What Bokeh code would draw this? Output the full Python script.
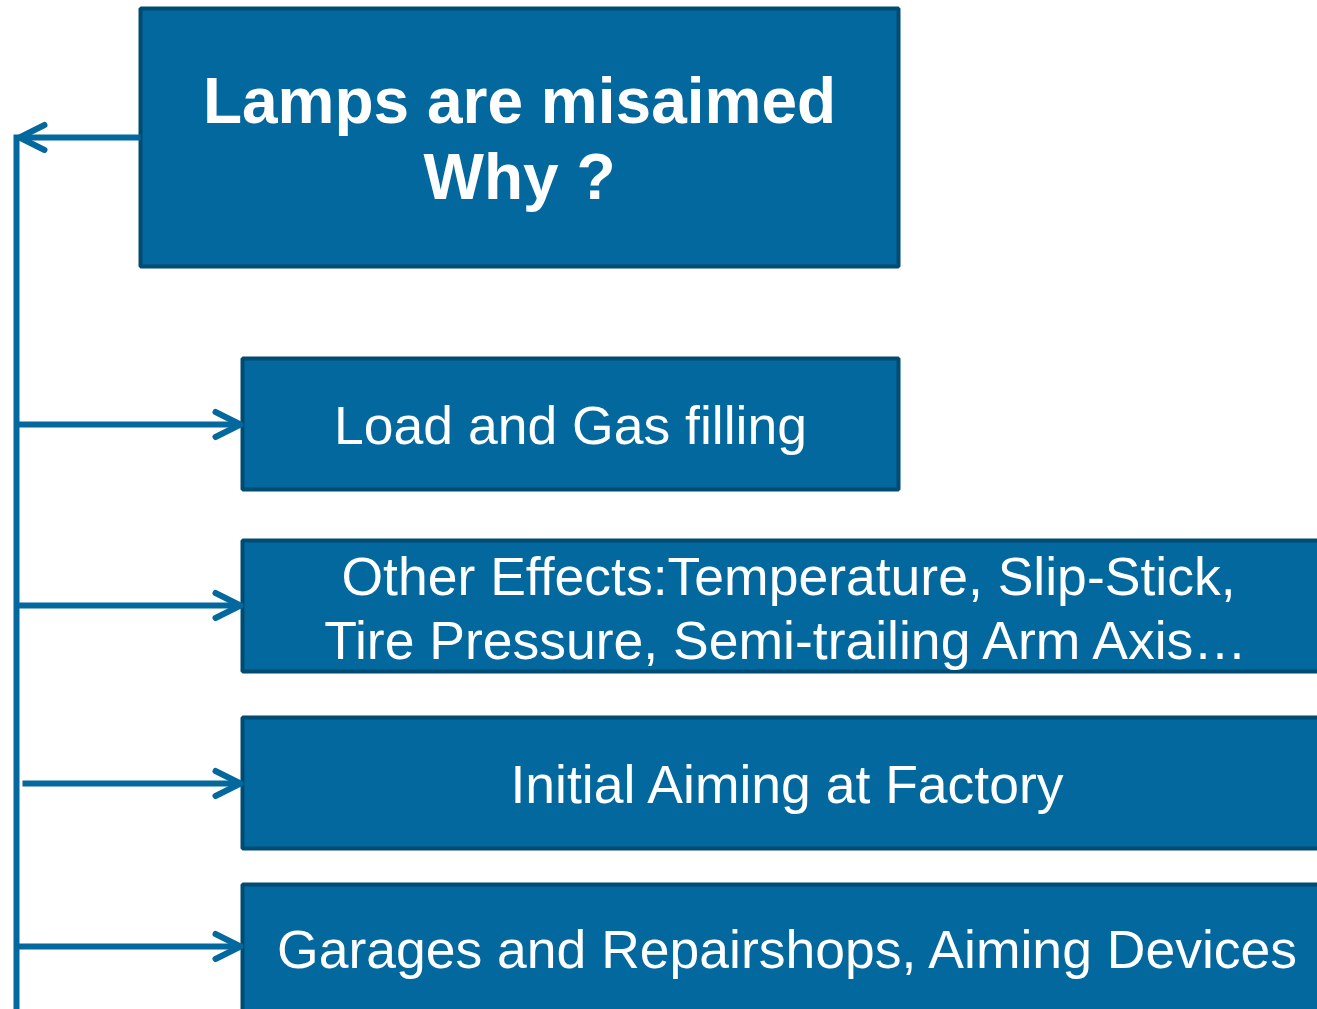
from bokeh.plotting import figure
from bokeh.models import Range1d, Arrow, OpenHead
from bokeh.core.properties import value
from bokeh.embed import file_html
from bokeh.resources import INLINE

# ---- content ----
title_lines = ["Lamps are misaimed", "Why ?"]
cause_labels = [
    ["Load and Gas filling"],
    ["Other Effects:Temperature, Slip-Stick,", "Tire Pressure, Semi-trailing Arm Axis\u2026"],
    ["Initial Aiming at Factory"],
    ["Garages and Repairshops, Aiming Devices"],
]

# ---- layout (page pixel coordinates) ----
FILL = "#02689d"
EDGE = "#004b72"
LINE = "#02689d"

title_box = (140, 898, 8, 266)
title_mids = [100, 176]
title_cx = 519

cause_boxes = [(242, 898, 358, 489), (242, 1340, 540, 671), (242, 1340, 717, 848), (242, 1340, 884, 1040)]
cause_cx = [570, 788, 788, 788]
cause_mids = [[425], [576, 640], [784], [949]]
arrow_y = [424, 605, 783, 946]
arrow_x0 = [16, 16, 22, 16]
spine_x = 16

p = figure(width=1317, height=1009, output_backend="svg", toolbar_location=None,
           x_range=Range1d(0, 1317), y_range=Range1d(1009, 0),
           min_border=0, background_fill_color="white", border_fill_color="white")
p.axis.visible = False
p.grid.visible = False
p.outline_line_color = None

# boxes
boxes = [title_box] + cause_boxes
p.quad(left=[b[0] for b in boxes], right=[b[1] for b in boxes],
       top=[b[2] for b in boxes], bottom=[b[3] for b in boxes],
       fill_color=FILL, line_color=EDGE, line_width=4)

# spine
p.segment(x0=[spine_x], y0=[134], x1=[spine_x], y1=[1020], line_color=LINE, line_width=6)

# arrow from title to spine
p.add_layout(Arrow(end=OpenHead(size=25, line_color=LINE, line_width=6, line_join="round", line_cap="round"),
                   x_start=title_box[0], y_start=137, x_end=19, y_end=137,
                   line_color=LINE, line_width=6))

# arrows to causes
for x0, y in zip(arrow_x0, arrow_y):
    p.add_layout(Arrow(end=OpenHead(size=25, line_color=LINE, line_width=6, line_join="round", line_cap="round"),
                       x_start=x0, y_start=y, x_end=240, y_end=y,
                       line_color=LINE, line_width=6))

# title text
p.text(x=[title_cx] * 2, y=title_mids, text=title_lines,
       text_font=value("Liberation Sans"), text_font_style="bold", text_font_size="64px",
       text_color="white", text_align="center", text_baseline="middle")

# cause texts
xs, ys, ts = [], [], []
for cx, mids, labs in zip(cause_cx, cause_mids, cause_labels):
    for m, t in zip(mids, labs):
        xs.append(cx); ys.append(m); ts.append(t)
p.text(x=xs, y=ys, text=ts, text_font=value("Liberation Sans"), text_font_size="53.5px",
       text_color="white", text_align="center", text_baseline="middle")

open("out.html", "w").write(file_html(p, INLINE))
